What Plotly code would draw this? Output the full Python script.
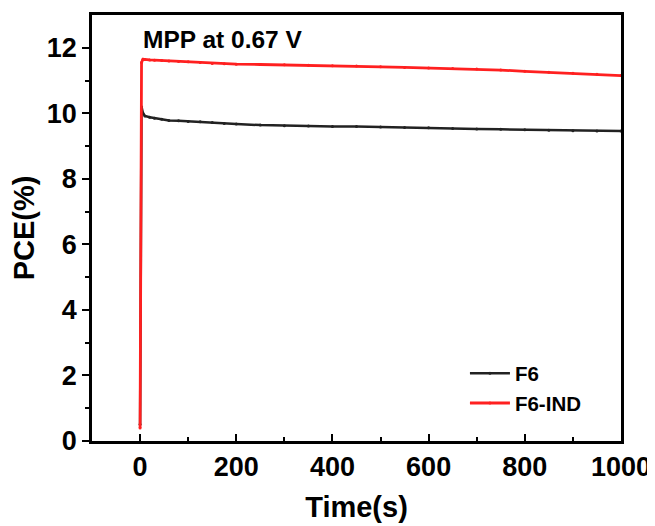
import plotly.graph_objects as go

# time in seconds
time_s = [0, 3, 6, 10, 20, 30, 45, 60, 80, 100, 125, 150, 175, 200, 250, 300, 350, 400,
          450, 500, 550, 600, 650, 700, 750, 800, 850, 900, 950, 1000]
pce_f6 = [0.5, 10.2, 10.0, 9.92, 9.88, 9.85, 9.82, 9.78, 9.77, 9.75, 9.74, 9.72, 9.69, 9.67,
          9.64, 9.62, 9.61, 9.60, 9.60, 9.58, 9.57, 9.56, 9.54, 9.52, 9.51, 9.50, 9.48, 9.47,
          9.46, 9.46]
pce_f6_ind = [0.4, 11.55, 11.65, 11.64, 11.63, 11.62, 11.61, 11.60, 11.58, 11.57, 11.55, 11.52,
              11.51, 11.50, 11.49, 11.48, 11.47, 11.45, 11.44, 11.42, 11.40, 11.38, 11.37,
              11.35, 11.32, 11.28, 11.25, 11.22, 11.19, 11.15]

FONT = "Liberation Sans, Arial, sans-serif"

fig = go.Figure()
fig.add_trace(go.Scatter(x=time_s, y=pce_f6, name="F6", mode="lines+markers",
                         line=dict(color="#222222", width=2.5),
                         marker=dict(size=3, color="#222222")))
fig.add_trace(go.Scatter(x=time_s, y=pce_f6_ind, name="F6-IND", mode="lines+markers",
                         line=dict(color="#ff2020", width=2.8),
                         marker=dict(size=3, color="#ff2020")))

fig.add_annotation(x=2, y=12.25, xref="x", yref="y", text="<b>MPP at 0.67 V</b>",
                   showarrow=False, xanchor="left", yanchor="middle",
                   font=dict(family=FONT, size=24.5, color="black"))

# page body adds an 8px offset, so margins are shifted to compensate
fig.update_layout(
    width=655, height=526,
    margin=dict(l=84, r=42, t=7, b=93),
    plot_bgcolor="white", paper_bgcolor="white",
    font=dict(family=FONT, color="black"),
    showlegend=True,
    legend=dict(x=0.705, y=0.041, xanchor="left", yanchor="bottom",
                bgcolor="rgba(0,0,0,0)", tracegroupgap=2, itemwidth=40,
                font=dict(family=FONT, size=20.5, color="black", weight="bold")),
)
fig.update_xaxes(
    range=[-100, 1000], tickvals=[0, 200, 400, 600, 800, 1000], automargin=False,
    showline=True, linecolor="black", linewidth=2.5, mirror=True,
    ticks="inside", ticklen=7, tickwidth=2, tickcolor="black",
    minor=dict(tickvals=[100, 300, 500, 700, 900], ticks="inside", ticklen=4, tickwidth=2,
               tickcolor="black"),
    showgrid=False, zeroline=False,
    tickfont=dict(family=FONT, size=27, weight="bold"),
    title=dict(text="<b>Time(s)</b>", font=dict(family=FONT, size=29), standoff=16),
)
fig.update_yaxes(
    range=[0, 13], tickvals=[0, 2, 4, 6, 8, 10, 12], automargin=False,
    showline=True, linecolor="black", linewidth=2.5, mirror=True,
    ticks="outside", ticklen=7, tickwidth=2, tickcolor="black",
    minor=dict(tickvals=[1, 3, 5, 7, 9, 11], ticks="outside", ticklen=4, tickwidth=2,
               tickcolor="black"),
    showgrid=False, zeroline=False,
    tickfont=dict(family=FONT, size=27, weight="bold"),
    title=dict(text="<b>PCE(%)</b>", font=dict(family=FONT, size=29), standoff=4),
)

fig.write_html("out.html")
